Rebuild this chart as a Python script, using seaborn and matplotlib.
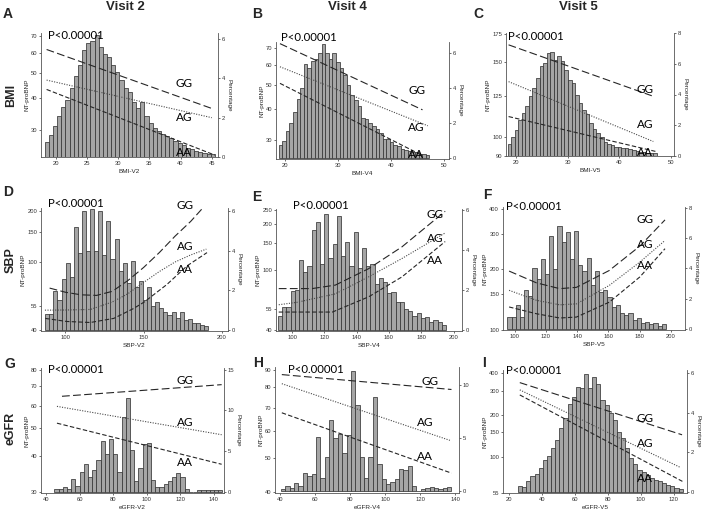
import numpy as np
import pandas as pd
import matplotlib
matplotlib.use("Agg")
import matplotlib.pyplot as plt
import seaborn as sns

sns.set_theme(style="white")
plt.rcParams['font.family'] = ['Liberation Sans', 'DejaVu Sans']

# ---------------- data ----------------
col_titles = ["Visit 2", "Visit 4", "Visit 5"]
row_titles = ["BMI", "SBP", "eGFR"]
panel_letters = ["A", "B", "C", "D", "E", "F", "G", "H", "I"]
x_labels = ["BMI-V2", "BMI-V4", "BMI-V5", "SBP-V2", "SBP-V4", "SBP-V5",
            "eGFR-V2", "eGFR-V4", "eGFR-V5"]
p_text = "P<0.00001"
geno = ["GG", "AG", "AA"]

# histogram: first bin edge, bin width, percentage per bin
bmi_v2_bins = (18.2, 0.666)
bmi_v2_pct = [0.75, 1.1, 1.6, 2.1, 2.55, 2.9, 3.5, 4.1, 4.7, 5.45, 5.8, 5.9, 6.2, 5.6,
              5.25, 5.1, 4.7, 4.35, 3.9, 3.5, 3.3, 2.8, 2.5, 2.8, 2.1, 1.75, 1.5, 1.3,
              1.15, 1.05, 0.95, 0.8, 0.7, 0.6, 0.45, 0.4, 0.3, 0.25, 0.2, 0.15, 0.15]
bmi_v4_bins = (18.75, 0.677)
bmi_v4_pct = [0.73, 1.0, 1.55, 2.0, 2.6, 3.35, 4.0, 5.35, 5.1, 5.5, 5.65, 6.0, 6.5, 5.95,
              5.65, 6.0, 5.45, 5.1, 4.7, 4.15, 3.6, 3.3, 2.95, 2.3, 2.25, 2.0, 1.85, 1.65,
              1.45, 1.1, 1.1, 0.95, 0.75, 0.68, 0.53, 0.45, 0.4, 0.34, 0.34, 0.26, 0.24, 0.2]
bmi_v5_bins = (18.4, 0.688)
bmi_v5_pct = [0.78, 1.26, 1.7, 2.35, 2.8, 3.26, 3.9, 4.4, 5.07, 5.83, 6.04, 6.7, 6.74, 6.26,
              6.5, 6.15, 5.57, 4.96, 4.74, 3.98, 3.43, 3.0, 2.74, 2.17, 1.74, 1.52, 1.22,
              0.93, 0.78, 0.72, 0.61, 0.61, 0.5, 0.5, 0.43, 0.39, 0.35, 0.28, 0.28, 0.22,
              0.17, 0.17]
sbp_v2_bins = (87.2, 2.6)
sbp_v2_pct = [0.8, 0.8, 1.95, 1.5, 2.6, 3.4, 2.7, 5.2, 3.9, 6.0, 4.0, 6.1, 4.0, 6.0, 3.8,
              5.5, 3.6, 4.6, 3.0, 3.4, 2.4, 3.5, 2.2, 2.5, 1.5, 2.2, 1.2, 1.4, 1.1, 0.9,
              0.75, 0.9, 0.6, 0.9, 0.5, 0.55, 0.35, 0.35, 0.25, 0.2]
sbp_v4_bins = (91.3, 2.6)
sbp_v4_pct = [0.7, 1.15, 1.15, 1.95, 2.0, 3.5, 2.9, 3.2, 5.0, 5.4, 3.3, 5.8, 3.6, 4.3, 5.7,
              3.7, 4.4, 3.2, 4.9, 3.1, 4.1, 3.2, 3.3, 2.3, 2.6, 2.4, 1.85, 1.9, 1.4, 1.4,
              1.05, 0.95, 0.7, 0.85, 0.6, 0.65, 0.4, 0.5, 0.4, 0.25]
sbp_v5_bins = (95.3, 2.67)
sbp_v5_pct = [0.83, 0.79, 1.6, 0.83, 2.62, 2.19, 4.0, 3.34, 4.65, 3.67, 6.12, 4.0, 6.78,
              5.75, 6.4, 4.65, 6.45, 4.22, 3.82, 4.72, 2.91, 3.84, 2.47, 2.58, 2.14, 1.49,
              1.6, 1.09, 0.94, 1.09, 0.61, 0.72, 0.39, 0.5, 0.35, 0.39, 0.22, 0.35]
egfr_v2_bins = (45.0, 2.5)
egfr_v2_pct = [0.33, 0.33, 0.57, 0.41, 1.63, 0.7, 2.5, 3.4, 1.9, 2.7, 3.9, 6.2, 4.6, 6.5,
               4.6, 2.5, 9.2, 11.5, 5.1, 1.3, 2.9, 5.9, 6.0, 1.5, 0.6, 0.6, 1.0, 1.4, 1.9,
               2.3, 1.8, 0.4, 0, 0, 0.25, 0.25, 0.25, 0.25, 0.25, 0.3]
egfr_v4_bins = (40.5, 2.5)
egfr_v4_pct = [0.25, 0.47, 0.31, 0.78, 0.53, 1.7, 1.4, 1.6, 5.1, 1.3, 3.2, 6.7, 5.0, 5.4,
               3.6, 5.3, 11.3, 8.1, 3.2, 1.3, 3.2, 8.8, 2.6, 1.2, 0.7, 0.9, 1.2, 2.1, 2.0,
               2.4, 0.5, 0, 0.2, 0.3, 0.4, 0.3, 0.25, 0.3, 0.45]
egfr_v5_bins = (25.5, 2.5)
egfr_v5_pct = [0.29, 0.24, 0.54, 0.79, 0.91, 1.21, 1.63, 1.8, 2.22, 2.64, 3.23, 3.76, 4.44,
               4.82, 5.33, 5.24, 5.95, 5.24, 5.83, 5.45, 4.66, 4.4, 3.98, 3.65, 3.03, 2.72,
               2.22, 1.71, 1.41, 1.13, 1.01, 0.87, 0.71, 0.62, 0.57, 0.45, 0.37, 0.29, 0.2,
               0.17]

# fitted NT-proBNP lines (x, y) per genotype
bmi_v2_gg = ([18.5, 45.0], [62.0, 36.5])
bmi_v2_ag = ([18.5, 45.0], [47.1, 33.6])
bmi_v2_aa = ([18.5, 45.5], [43.3, 24.0])
bmi_v4_gg = ([19.0, 45.9], [72.8, 39.7])
bmi_v4_ag = ([19.0, 46.9], [58.9, 34.3])
bmi_v4_aa = ([19.0, 45.6], [50.6, 26.3])
bmi_v5_gg = ([18.6, 46.3], [165.0, 125.0])
bmi_v5_ag = ([18.6, 46.6], [135.0, 97.4])
bmi_v5_aa = ([18.6, 47.0], [111.6, 92.3])
sbp_v2_gg = ([90, 100, 110, 120, 130, 140, 150, 160, 170, 180, 187],
             [70.4, 66.6, 64.3, 63.8, 67.4, 78.0, 93.0, 113.6, 141.6, 172.8, 203.6])
sbp_v2_ag = ([87, 100, 116, 130, 140, 150, 160, 170, 180, 190],
             [52.3, 52.4, 52.8, 58.4, 65.3, 76.0, 88.0, 100.0, 110.0, 119.0])
sbp_v2_aa = ([87.2, 101, 116, 130.9, 143.6, 150.4, 164.9, 177.7, 190.4],
             [46.8, 44.9, 44.3, 46.8, 53.5, 58.4, 74.0, 95.0, 113.5])
sbp_v4_gg = ([91.8, 112.4, 126.8, 147.4, 168, 194.8], [75.4, 75.4, 79.5, 102, 142, 244])
sbp_v4_ag = ([91.8, 103, 126.8, 147.4, 168, 194.8], [59, 61.2, 69.6, 90.1, 119, 175.6])
sbp_v4_aa = ([91.8, 125, 147.4, 168, 194.8], [52.8, 52.8, 66.5, 90, 154])
sbp_v5_gg = ([96.4, 113.9, 128.8, 139.5, 160.5, 180.1, 196.2],
             [195.7, 171, 160, 162.4, 197, 260.6, 352])
sbp_v5_ag = ([96.4, 113.9, 128.8, 139.5, 160.5, 180.1, 196.2],
             [157, 140, 132.9, 134.4, 166, 217, 278])
sbp_v5_aa = ([96.4, 113.9, 128.8, 139.5, 160.5, 180.1, 196.2],
             [129.7, 120, 114.3, 115.5, 137, 183, 253])
egfr_v2_gg = ([49.5, 144.6], [64.6, 70.9])
egfr_v2_ag = ([46.5, 144.6], [59.6, 47.5])
egfr_v2_aa = ([46.5, 144.6], [52.1, 37.5])
egfr_v4_gg = ([41.0, 138.0], [87.1, 78.9])
egfr_v4_ag = ([41.0, 137.1], [82.0, 56.3])
egfr_v4_aa = ([41.0, 138.0], [67.6, 45.3])
egfr_v5_gg = ([26.5, 125.1], [343, 144.4])
egfr_v5_ag = ([26.5, 124.1], [304, 84])
egfr_v5_aa = ([26.5, 125.3], [279.6, 66.7])

# genotype label anchor (x, NT-proBNP) per panel
lab_bmi_v2 = ([40.6, 40.6, 40.6], [45.7, 33.6, 24.5])
lab_bmi_v4 = ([44.9, 44.7, 44.7], [47.6, 33.9, 26.3])
lab_bmi_v5 = ([45.0, 45.0, 45.0], [129.5, 106.6, 91.5])
lab_sbp_v2 = ([176.6, 176.6, 176.6], [212.8, 124, 91])
lab_sbp_v4 = ([188.7, 188.7, 188.7], [231.6, 162.5, 116])
lab_sbp_v5 = ([183.3, 183.3, 183.3], [352, 266.7, 209])
lab_egfr_v2 = ([122.8, 122.8, 122.8], [73, 52.3, 38])
lab_egfr_v4 = ([125.7, 122.9, 122.9], [83.3, 63.3, 50.5])
lab_egfr_v5 = ([102.7, 102.7, 102.7], [190, 125.7, 70.5])

# ticks
x_ticks = [[20, 25, 30, 35, 40, 45], [20, 30, 40, 50], [20, 30, 40, 50],
           [100, 150, 200], [100, 120, 140, 160, 180, 200], [100, 120, 140, 160, 180, 200],
           [40, 60, 80, 100, 120, 140], [40, 60, 80, 100, 120, 140], [20, 40, 60, 80, 100, 120]]
nt_ticks = [[30, 40, 50, 60, 70], [30, 40, 50, 60, 70], [90, 100, 125, 150, 175],
            [40, 55, 100, 150, 200], [40, 55, 100, 150, 200, 250], [100, 150, 200, 300, 400],
            [30, 40, 50, 60, 70, 80], [40, 50, 60, 70, 80, 90], [55, 100, 150, 200, 300, 400]]
pct_ticks = [[0, 2, 4, 6], [0, 2, 4, 6], [0, 2, 4, 6, 8],
             [0, 2, 4, 6], [0, 2, 4, 6], [0, 2, 4, 6, 8],
             [0, 5, 10, 15], [0, 5, 10], [0, 2, 4, 6]]
# right-axis title shown (the one of panel H is hidden behind panel I in the source)
pct_title_shown = [True, True, True, True, True, True, True, False, True]

# ---------------- layout / style ----------------
W, H = 703, 513
fig = plt.figure(figsize=(W / 100, H / 100), dpi=100)
fig.patch.set_facecolor("white")

BAR = "#a5a5a5"
EDGE = "#363636"
LINE = "#262626"
SP = "#555555"
LFONT = ["Lato", "DejaVu Sans"]

boxes = [(41, 33, 218, 157), (276, 42, 449, 159), (506, 33, 674, 156),
         (41, 208, 228, 331), (276, 209, 462, 331), (503, 207, 685, 330),
         (41, 368, 224, 493), (275, 367, 459, 493), (503, 370, 687, 493)]
xlims = [(17.6, 46.0), (18.25, 50.9), (18.1, 50.6), (84.5, 203.8), (90.1, 205.2),
         (92.5, 209.0), (37.0, 146.0), (37.1, 142.3), (16.3, 128.1)]
nt_lims = [(23.6, 71.9), (25.3, 73.9), (90, 176), (39.5, 207), (39.6, 252.5),
           (99.6, 408), (29.8, 81), (39.7, 91.6), (55, 422.7)]
pct_lims = [(0, 6.31), (-0.04, 6.6), (0, 8.0), (-0.05, 6.17), (-0.03, 6.07),
            (-0.04, 8.04), (-0.12, 15.2), (-0.15, 11.65), (-0.05, 6.17)]
p_pos = [(0.04, 0.976), (0.03, 1.04), (0.014, 0.973), (0.036, 1.04), (0.09, 1.03),
         (0.015, 1.005), (0.036, 0.987), (0.072, 0.979), (0.018, 1.0)]

hists = [(bmi_v2_bins, bmi_v2_pct), (bmi_v4_bins, bmi_v4_pct), (bmi_v5_bins, bmi_v5_pct),
         (sbp_v2_bins, sbp_v2_pct), (sbp_v4_bins, sbp_v4_pct), (sbp_v5_bins, sbp_v5_pct),
         (egfr_v2_bins, egfr_v2_pct), (egfr_v4_bins, egfr_v4_pct), (egfr_v5_bins, egfr_v5_pct)]
fits = [(bmi_v2_gg, bmi_v2_ag, bmi_v2_aa), (bmi_v4_gg, bmi_v4_ag, bmi_v4_aa),
        (bmi_v5_gg, bmi_v5_ag, bmi_v5_aa), (sbp_v2_gg, sbp_v2_ag, sbp_v2_aa),
        (sbp_v4_gg, sbp_v4_ag, sbp_v4_aa), (sbp_v5_gg, sbp_v5_ag, sbp_v5_aa),
        (egfr_v2_gg, egfr_v2_ag, egfr_v2_aa), (egfr_v4_gg, egfr_v4_ag, egfr_v4_aa),
        (egfr_v5_gg, egfr_v5_ag, egfr_v5_aa)]
labs = [lab_bmi_v2, lab_bmi_v4, lab_bmi_v5, lab_sbp_v2, lab_sbp_v4, lab_sbp_v5,
        lab_egfr_v2, lab_egfr_v4, lab_egfr_v5]
line_styles = [dict(linestyle=(0, (7, 3)), color=LINE, linewidth=0.8),
               dict(linestyle=(0, (1, 1.3)), color="#4a4a4a", linewidth=0.8),
               dict(linestyle=(0, (4, 2)), color=LINE, linewidth=0.8)]

for i in range(9):
    l, t, r, b = boxes[i]
    axh = fig.add_axes([l / W, 1 - b / H, (r - l) / W, (b - t) / H])
    axl = axh.twinx()

    (start, width), pct = hists[i]
    edges = [start + width * k for k in range(len(pct) + 1)]
    centers = [(edges[k] + edges[k + 1]) / 2 for k in range(len(pct))]
    df = pd.DataFrame({"x": centers, "pct": pct})
    df = df[df["pct"] > 0]
    sns.histplot(data=df, x="x", weights="pct", bins=edges, ax=axh,
                 color=BAR, edgecolor=EDGE, linewidth=0.55, alpha=1.0)
    axh.set_xlim(*xlims[i])
    axh.set_ylim(*pct_lims[i])
    axh.yaxis.tick_right()
    axh.yaxis.set_label_position("right")
    axh.set_yticks(pct_ticks[i])
    axh.set_yticklabels([str(v) for v in pct_ticks[i]])
    axh.set_ylabel("Percentage" if pct_title_shown[i] else "", rotation=-90,
                   fontsize=4.6, labelpad=4.5)
    axh.set_xticks(x_ticks[i])
    axh.set_xticklabels([str(v) for v in x_ticks[i]])
    axh.set_xlabel(x_labels[i], fontsize=4.6, labelpad=2.5)
    axh.tick_params(axis="both", labelsize=4.2, length=1.6, width=0.5, pad=1.2,
                    colors="#333333")
    axh.tick_params(axis="y", right=True, left=False)
    axh.tick_params(axis="x", bottom=True)
    for s in ["top", "left"]:
        axh.spines[s].set_visible(False)
    for s in ["right", "bottom"]:
        axh.spines[s].set_color(SP)
        axh.spines[s].set_linewidth(0.6)

    axl.set_yscale("log")
    for (xs, ys), st in zip(fits[i], line_styles):
        sns.lineplot(x=xs, y=ys, ax=axl, **st)
    axl.set_ylim(*nt_lims[i])
    axl.set_xlim(*xlims[i])
    axl.yaxis.tick_left()
    axl.yaxis.set_label_position("left")
    axl.set_yticks(nt_ticks[i])
    axl.set_yticklabels([str(v) for v in nt_ticks[i]])
    axl.yaxis.set_minor_locator(matplotlib.ticker.NullLocator())
    axl.set_ylabel("NT-proBNP", fontsize=4.6, labelpad=1.0)
    axl.tick_params(axis="y", labelsize=4.2, length=1.6, width=0.5, pad=1.2,
                    colors="#333333", left=True, right=False)
    for s in ["top", "right", "bottom"]:
        axl.spines[s].set_visible(False)
    axl.spines["left"].set_color(SP)
    axl.spines["left"].set_linewidth(0.6)

    lx, ly = labs[i]
    for g, xx, yy in zip(geno, lx, ly):
        axl.text(xx, yy, g, ha="center", va="center", fontsize=8.5,
                 family=LFONT, color="black", clip_on=False)
    px, py = p_pos[i]
    axl.text(px, py, p_text, transform=axl.transAxes, ha="left", va="center",
             fontsize=8.2, family=LFONT, color="black", clip_on=False)

# column titles, row titles, panel letters
for txt, x in zip(col_titles, [125, 347, 578]):
    fig.text(x / W, 1 - 7 / H, txt, ha="center", va="center", fontsize=9.5,
             fontweight="bold")
for txt, y in zip(row_titles, [95, 260, 428]):
    fig.text(11 / W, 1 - y / H, txt, ha="center", va="center", fontsize=9,
             fontweight="bold", rotation=90)
letter_pos = [(8, 14), (257, 14), (478, 14), (8, 192), (257, 197), (487, 195),
              (10, 364), (258, 363), (484, 363)]
for txt, (x, y) in zip(panel_letters, letter_pos):
    fig.text(x / W, 1 - y / H, txt, ha="center", va="center", fontsize=10,
             fontweight="bold")

fig.savefig("out.png", dpi=100, facecolor="white")
